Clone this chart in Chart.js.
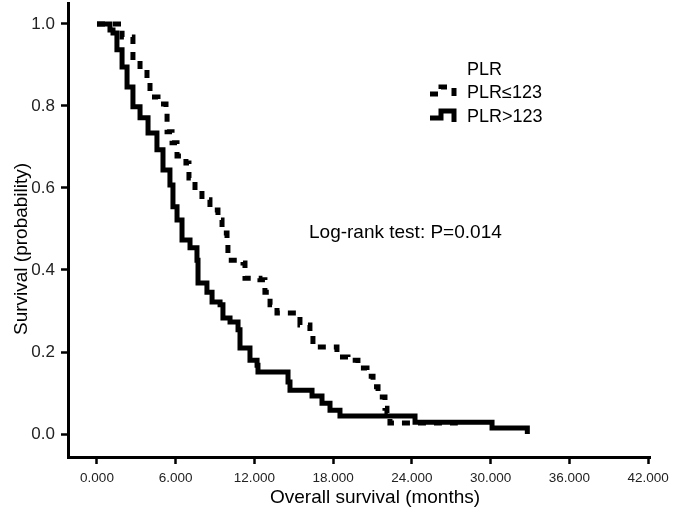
<!DOCTYPE html>
<html>
<head>
<meta charset="utf-8">
<script src="https://cdn.jsdelivr.net/npm/chart.js@4"></script>
<style>
  html, body { margin: 0; padding: 0; background: #fff; }
  #wrap { width: 674px; height: 515px; }
</style>
</head>
<body>
<div id="wrap"><canvas id="km"></canvas></div>
<script>
// tick labels
const timeTicks = [0, 6, 12, 18, 24, 30, 36, 42];
const survTicks = [0, 0.2, 0.4, 0.6, 0.8, 1.0];

const groupNames = ['PLR\u2264123', 'PLR>123'];

// PLR<=123 (dashed) - survival drops at these times
const lowTime = [0, 1.91, 2.74, 3.28, 3.81, 4.04, 4.65, 5.26, 5.34, 5.72, 6.10, 6.78, 7.01, 7.47, 8.00,
  8.61, 9.22, 9.53, 9.91, 9.98, 11.13, 11.28, 12.42, 12.80, 13.19, 13.72, 15.47, 16.23, 16.46,
  18.29, 19.13, 19.89, 20.58, 21.04, 21.42, 21.95, 22.10, 22.33, 27.5];
const lowSurv = [1.0, 0.968, 0.912, 0.888, 0.859, 0.822, 0.805, 0.783, 0.737, 0.71, 0.678, 0.661, 0.624, 0.595, 0.571,
  0.546, 0.522, 0.49, 0.461, 0.424, 0.417, 0.38, 0.376, 0.346, 0.315, 0.295, 0.266, 0.249, 0.212,
  0.188, 0.18, 0.161, 0.141, 0.115, 0.09, 0.063, 0.051, 0.027, 0.027];

// PLR>123 (solid)
const highTime = [0, 0.99, 1.22, 1.52, 1.91, 2.29, 2.74, 3.28, 3.89, 4.57, 5.03, 5.56, 5.79, 6.10, 6.48,
  7.09, 7.62, 7.70, 8.38, 8.77, 9.38, 9.60, 10.14, 10.75, 10.90, 11.66, 12.20, 12.27, 14.56, 14.71,
  16.39, 17.15, 17.76, 18.52, 24.24, 30.11, 32.8];
const highSurv = [1.0, 0.985, 0.978, 0.937, 0.895, 0.846, 0.798, 0.771, 0.734, 0.693, 0.644, 0.607, 0.554, 0.522, 0.473,
  0.454, 0.424, 0.368, 0.346, 0.322, 0.315, 0.283, 0.273, 0.254, 0.21, 0.18, 0.168, 0.151, 0.127, 0.107,
  0.093, 0.075, 0.058, 0.044, 0.029, 0.015, 0.0];

const FONT = '"Liberation Sans", Arial, Helvetica, sans-serif';

function toPoints(xs, ys) {
  return xs.map((t, i) => ({ x: t, y: ys[i] }));
}

// text labels, legend and log-rank note
const notes = {
  id: 'notes',
  afterDraw(chart) {
    const ctx = chart.ctx;
    ctx.save();
    ctx.fillStyle = '#000';
    ctx.textBaseline = 'alphabetic';
    ctx.textAlign = 'left';
    ctx.font = '19px ' + FONT;
    ctx.fillText('Log-rank test: P=0.014', 309, 238);
    ctx.fillText('Overall survival (months)', 270, 503);
    ctx.save();
    ctx.translate(27, 335);
    ctx.rotate(-Math.PI / 2);
    ctx.fillText('Survival (probability)', 0, 0);
    ctx.restore();

    ctx.font = '18px ' + FONT;
    ctx.fillText('PLR', 467, 75);
    const rows = [98, 122];
    chart.data.datasets.forEach((ds, i) => {
      const y = rows[i];
      ctx.fillText(ds.label, 467, y);
      ctx.save();
      ctx.strokeStyle = ds.borderColor;
      ctx.lineWidth = ds.borderWidth;
      ctx.lineCap = 'butt';
      ctx.lineJoin = 'miter';
      ctx.setLineDash(ds.borderDash || []);
      ctx.beginPath();
      ctx.moveTo(430, y - 4);
      ctx.lineTo(441, y - 4);
      ctx.lineTo(441, y - 11);
      ctx.lineTo(454, y - 11);
      ctx.lineTo(454, y);
      ctx.stroke();
      ctx.restore();
    });
    ctx.restore();
  }
};

// keep the plot area fixed, ignore label overflow padding
function noPad(s) {
  s.paddingTop = 0;
  s.paddingBottom = 0;
  s.paddingLeft = 0;
  s.paddingRight = 0;
}

new Chart(document.getElementById('km'), {
  type: 'line',
  data: {
    datasets: [{
      label: groupNames[0],
      data: toPoints(lowTime, lowSurv),
      stepped: 'before',
      borderColor: '#000',
      borderWidth: 5,
      borderDash: [8, 8],
      borderCapStyle: 'butt',
      borderJoinStyle: 'miter',
      pointRadius: 0,
      fill: false
    }, {
      label: groupNames[1],
      data: toPoints(highTime, highSurv),
      stepped: 'before',
      borderColor: '#000',
      borderWidth: 5,
      borderCapStyle: 'butt',
      borderJoinStyle: 'miter',
      pointRadius: 0,
      fill: false
    }]
  },
  options: {
    responsive: true,
    maintainAspectRatio: false,
    animation: false,
    layout: { padding: { left: 0, top: 3, right: 24, bottom: 0 } },
    plugins: {
      legend: { display: false },
      tooltip: { enabled: false }
    },
    scales: {
      x: {
        type: 'linear',
        min: -2.21,
        max: 42.15,
        afterBuildTicks: s => { s.ticks = timeTicks.map(v => ({ value: v })); },
        afterFit: s => { s.height = 58; noPad(s); },
        ticks: {
          callback: v => Number(v).toFixed(3),
          font: { family: FONT, size: 13.5 },
          color: '#222',
          padding: 6,
          maxRotation: 0,
          autoSkip: false
        },
        grid: { drawOnChartArea: false, drawTicks: true, tickLength: 7, tickWidth: 2.5, tickColor: '#000' },
        border: { display: true, color: '#000', width: 3 }
      },
      y: {
        type: 'linear',
        min: -0.056,
        max: 1.051,
        afterBuildTicks: s => { s.ticks = survTicks.map(v => ({ value: v })); },
        afterFit: s => { s.width = 68; noPad(s); },
        ticks: {
          callback: v => Number(v).toFixed(1),
          font: { family: FONT, size: 17 },
          color: '#222',
          padding: 6
        },
        grid: { drawOnChartArea: false, drawTicks: true, tickLength: 7, tickWidth: 2.5, tickColor: '#000' },
        border: { display: true, color: '#000', width: 3 }
      }
    }
  },
  plugins: [notes]
});
</script>
</body>
</html>
